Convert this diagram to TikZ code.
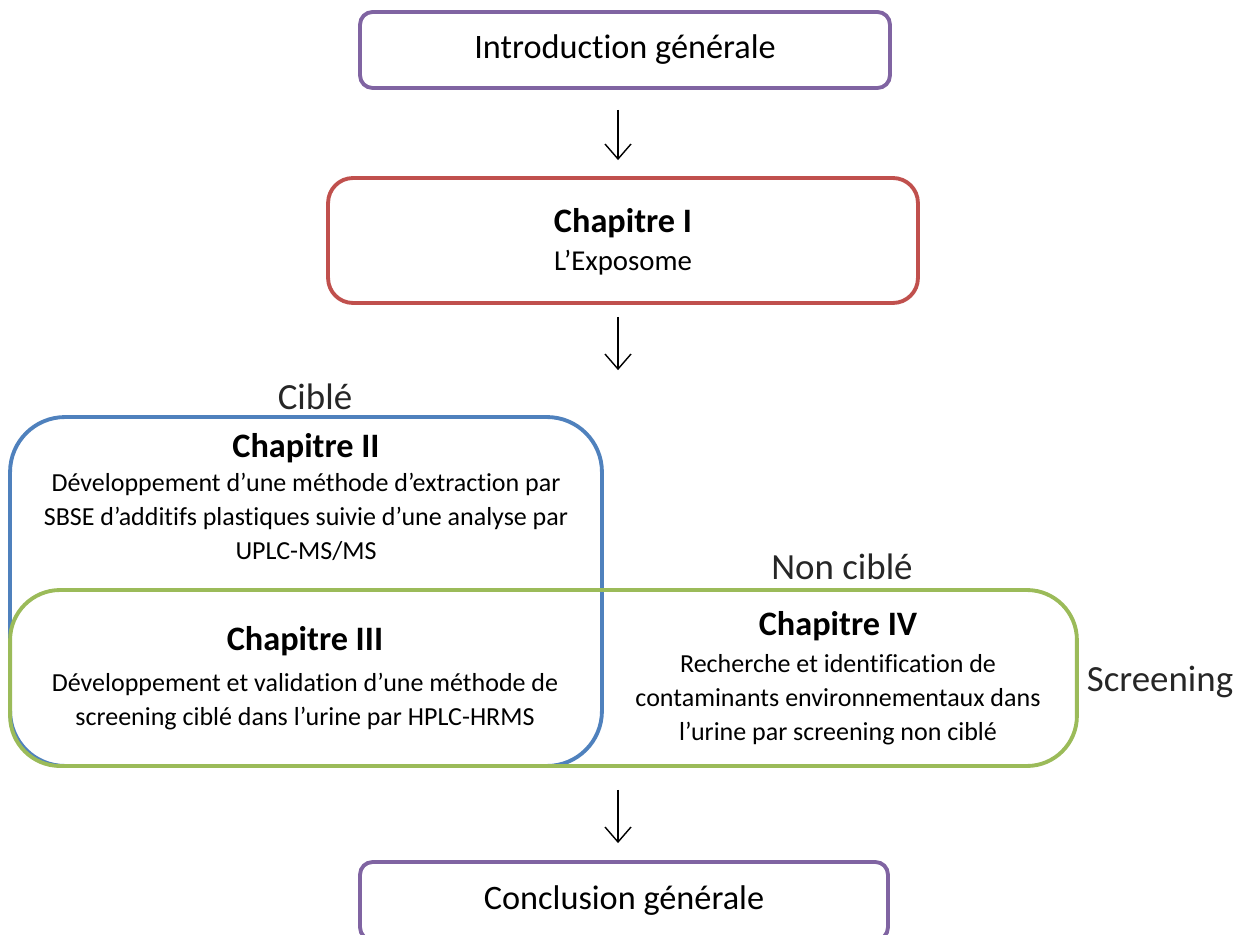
\documentclass[tikz,border=0pt]{standalone}
\usepackage{fontspec}
\setmainfont{Carlito}[RawFeature={-liga;-clig;-calt;-dlig}]
\usetikzlibrary{calc, arrows.meta}
\definecolor{purp}{RGB}{128,100,162}
\definecolor{redc}{RGB}{192,80,77}
\definecolor{bluec}{RGB}{79,129,189}
\definecolor{greenc}{RGB}{155,187,89}
\tikzstyle{int}=[draw, line width=2.2pt, fill=none, inner sep=0pt]
\tikzstyle{txt}=[align=center, font=\fontsize{14.8}{19.4}\selectfont]
\tikzstyle{lbl}=[font=\fontsize{21}{25}\selectfont, text=black!85]
\newcommand{\chap}[1]{{\fontsize{19.5}{23}\selectfont\bfseries #1}}

\begin{document}
\begin{tikzpicture}[x=0.02cm,y=-0.02cm,>={Straight Barb[length=3mm,width=5.2mm]}]
      \clip (0,0) rectangle (1236,935);

      \node [int, draw=purp, rounded corners=0.25cm, minimum width=10.6cm, minimum height=1.52cm,
        font=\fontsize{19.5}{23}\selectfont] (intro) at (625,50) {Introduction générale};
      \node [int, draw=redc, rounded corners=0.5cm, minimum width=11.8cm, minimum height=2.5cm] (c1) at (623,240.5) {};
      \node [txt] (t1) at (623,242) {\chap{Chapitre I}\\[2pt]{\fontsize{16.4}{19.4}\selectfont L’Exposome}};

      \node [int, draw=bluec, rounded corners=1.1cm, minimum width=11.84cm, minimum height=6.98cm] (c2) at (306,591.5) {};
      \node [int, draw=greenc, rounded corners=1cm, minimum width=21.34cm, minimum height=3.52cm] (c34) at (543.5,678) {};

      \node [txt] (t2) at (306,497) {\chap{Chapitre II}\\Développement d’une méthode d’extraction par\\SBSE d’additifs plastiques suivie d’une analyse par\\UPLC-MS/MS};
      \node [txt] (t3) at (305,678) {\chap{Chapitre III}\\[4pt]Développement et validation d’une méthode de\\screening ciblé dans l’urine par HPLC-HRMS};
      \node [txt] (t4) at (838,678) {\chap{Chapitre IV}\\[1.5pt]Recherche et identification de\\contaminants environnementaux dans\\l’urine par screening non ciblé};

      \node [lbl] (cible) at (315,397) {Ciblé};
      \node [lbl] (noncible) at (842,567) {Non ciblé};
      \node [lbl] (screen) at (1160,682) {Screening};

      \node [int, draw=purp, rounded corners=0.25cm, minimum width=10.56cm, minimum height=1.56cm,
        font=\fontsize{19.5}{23}\selectfont] (concl) at (624,901) {Conclusion générale};

      \path[->, line width=0.8pt, shorten <=0.4cm, shorten >=0.32cm] (intro.south -| 618,0) edge node {} (c1.north -| 618,0);
      \path[->, line width=0.8pt, shorten <=0.24cm, shorten >=0.9cm] (c1.south -| 618,0) edge node {} (c2.north -| 618,0);
      \path[->, line width=0.8pt, shorten <=0.44cm, shorten >=0.34cm] (c34.south -| 618,0) edge node {} (concl.north -| 618,0);
  \end{tikzpicture}
\end{document}
